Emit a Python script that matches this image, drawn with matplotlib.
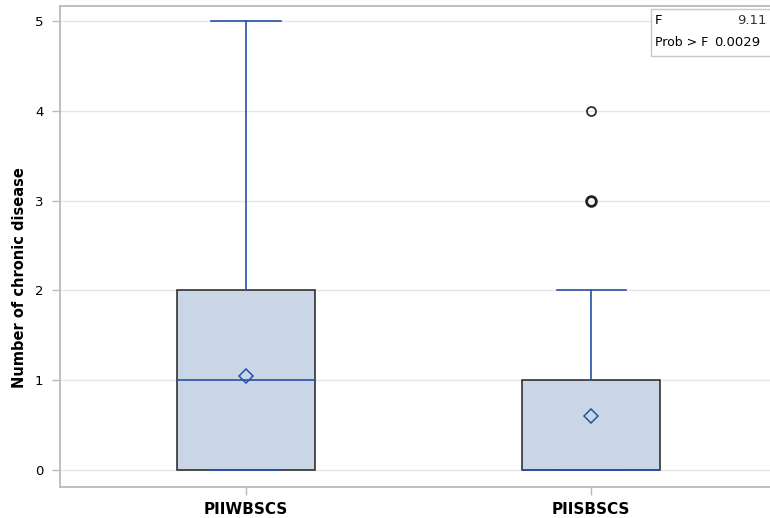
import matplotlib
matplotlib.use("Agg")
import matplotlib.pyplot as plt
from matplotlib.patches import Rectangle
from collections import Counter

groups = ["PIIWBSCS", "PIISBSCS"]
q1 = [0, 0]
median = [1, 0]
q3 = [2, 1]
whislo = [0, 0]
whishi = [5, 2]
means = [1.05, 0.6]
outliers = [[], [3, 3, 3, 4]]
f_value = "9.11"
p_value = "0.0029"
ylabel = "Number of chronic disease"

W, H = 770, 518
fig = plt.figure(figsize=(W / 100, H / 100), dpi=100)
ax = fig.add_axes([60 / W, (H - 487) / H, 725 / W, 481 / H])

spine_c = "#b4bcc2"
grid_c = "#e6e6e6"
blue = "#2850a8"
fill = "#cad5e5"

stats = []
for i, g in enumerate(groups):
    stats.append(dict(label=g, q1=q1[i], med=median[i], q3=q3[i],
                      whislo=whislo[i], whishi=whishi[i], mean=means[i],
                      fliers=[]))

ax.bxp(stats, positions=[0, 1], widths=0.4, capwidths=0.2,
       patch_artist=True, showmeans=True, showfliers=False,
       boxprops=dict(facecolor=fill, edgecolor="#222222", linewidth=1.1),
       medianprops=dict(color=blue, linewidth=1.2),
       whiskerprops=dict(color=blue, linewidth=1.2),
       capprops=dict(color=blue, linewidth=1.2),
       meanprops=dict(marker="D", markerfacecolor="none", markeredgecolor=blue,
                      markersize=7, markeredgewidth=1.1),
       zorder=3)

for i, vals in enumerate(outliers):
    for v, n in Counter(vals).items():
        ax.plot([i], [v], marker="o", markerfacecolor="none",
                markeredgecolor="#222222", markersize=7 if n > 1 else 6.5,
                markeredgewidth=2.0 if n > 1 else 1.2, zorder=4)

ax.set_xlim(-0.539, 1.562)
ax.set_ylim(-0.189, 5.167)
ax.set_yticks([0, 1, 2, 3, 4, 5])
ax.set_xticks([0, 1])
ax.set_xticklabels(groups, fontweight="bold", fontsize=11)
ax.tick_params(axis="y", labelsize=9.5, length=6, color=spine_c, width=1, pad=6)
ax.tick_params(axis="x", length=6, color=spine_c, width=1, pad=5)
ax.yaxis.grid(True, color=grid_c, linewidth=1, zorder=0)
ax.set_axisbelow(True)
for s in ax.spines.values():
    s.set_color(spine_c)
    s.set_linewidth(1.3)
ax.set_ylabel(ylabel, fontweight="bold", fontsize=10.5)
ax.yaxis.set_label_coords(-(60 - 27) / 725, (487 - 278) / 481)

# inset stats box
fig.patches.append(Rectangle((651 / W, (H - 56) / H), 130 / W, 47 / H,
                             transform=fig.transFigure, facecolor="white",
                             edgecolor="#c8c8c8", linewidth=1, zorder=5))
fig.text(655 / W, (H - 20) / H, "F", fontsize=9.5, va="center", ha="left", zorder=6)
fig.text(767 / W, (H - 20) / H, f_value, fontsize=9.5, va="center", ha="right",
         color="#333333", zorder=6)
fig.text(655 / W, (H - 43) / H, "Prob > F", fontsize=9, va="center", ha="left", zorder=6)
fig.text(714 / W, (H - 43) / H, p_value, fontsize=9.5, va="center", ha="left", zorder=6)

fig.savefig("out.png", dpi=100)
